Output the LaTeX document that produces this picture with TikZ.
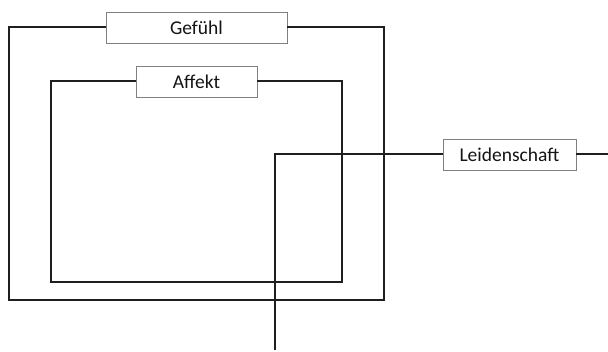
\documentclass[tikz,border=0pt]{standalone}
\usepackage{fontspec}
\setmainfont{Carlito}
\begin{document}
\begin{tikzpicture}[x=1pt,y=-1pt,
  label box/.style={draw=black!50,line width=0.9pt,fill=white,inner sep=0pt,
    minimum height=31pt,font=\fontsize{19.5}{21}\selectfont,text=black!92},
  frame/.style={draw=black!88,line width=2pt,line join=miter}]
\useasboundingbox (0,0) rectangle (608,352);

% label boxes
\node[label box,minimum width=181pt] (gef) at (196.5,27.5) {Gefühl};
\node[label box,minimum width=121pt] (aff) at (196.5,81.5) {Affekt};
\node[label box,minimum width=133pt] (lei) at (509.5,154.5) {Leidenschaft};

% corner points
\coordinate (o1) at (9,27.5);
\coordinate (o2) at (9,300);
\coordinate (o3) at (384,300);
\coordinate (o4) at (384,27.5);
\coordinate (i1) at (51,81.5);
\coordinate (i2) at (51,282);
\coordinate (i3) at (342,282);
\coordinate (i4) at (342,81.5);
\coordinate (l1) at (275,154.5);
\coordinate (l2) at (275,350);
\coordinate (l3) at (608,154.5);

% outer frame
\draw[frame] (gef.west) -- (o1) -- (o2) -- (o3) -- (o4) -- (gef.east);
% inner frame
\draw[frame] (aff.west) -- (i1) -- (i2) -- (i3) -- (i4) -- (aff.east);
% crossing line
\draw[frame] (lei.west) -- (l1) -- (l2);
\draw[frame] (lei.east) -- (l3);
\end{tikzpicture}
\end{document}
